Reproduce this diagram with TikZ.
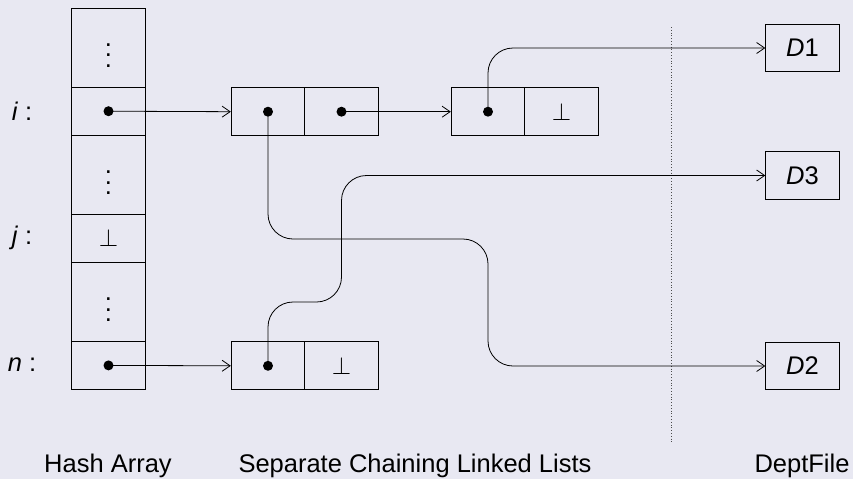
\documentclass[tikz,border=0pt]{standalone}
\usepackage{fontspec}
\setmainfont{Liberation Sans}
\usetikzlibrary{arrows.meta}
\definecolor{slidebg}{RGB}{232,232,242}
% vertical ellipsis sized for the large cells
\newcommand{\celldots}{\vbox{\baselineskip=10.5pt\lineskiplimit=0pt\hbox{.}\hbox{.}\hbox{.}}}
\begin{document}
\begin{tikzpicture}[x=1pt,y=-1pt,
  font=\fontsize{25.5}{30}\selectfont,
  cell/.style={draw, line width=0.9pt, inner sep=0pt, minimum width=73.5pt},
  bigcell/.style={cell, minimum height=79.3pt},
  smallcell/.style={cell, minimum height=47.8pt},
  listbox/.style={cell, minimum height=48pt},
  filebox/.style={cell, minimum height=47.5pt},
  ptr/.style={circle, fill=black, inner sep=0pt, minimum size=10pt},
  link/.style={line width=0.8pt, -{Straight Barb[length=8pt,width=11pt,line width=0.8pt]}},
  routed/.style={link, rounded corners=25pt}]
  % background and canvas
  \fill[slidebg] (0,0) rectangle (853,479);
  \useasboundingbox (0,0) rectangle (853,479);

  % hash array
  \node[bigcell]   (h0) at (108.5,47.6)  {};
  \node[smallcell] (hi) at (108.5,111.2) {};
  \node[bigcell]   (h1) at (108.5,174.7) {};
  \node[smallcell] (hj) at (108.5,238.3) {$\perp$};
  \node[bigcell]   (h2) at (108.5,301.8) {};
  \node[smallcell] (hn) at (108.5,365.4) {};
  \node[inner sep=0pt] (v0) at (108.5,55.6) {\celldots};
  \node[inner sep=0pt] (v1) at (108.5,182.7) {\celldots};
  \node[inner sep=0pt] (v2) at (108.5,309.8) {\celldots};

  \node (li) at (22,111) {\textit{i} :};
  \node (lj) at (22,238) {\textit{j} :};
  \node (ln) at (22,365) {\textit{n} :};

  % linked lists
  \node[listbox] (a1) at (268,111.7) {};
  \node[listbox] (a2) at (341.5,111.7) {};
  \node[listbox] (b1) at (488,111.7) {};
  \node[listbox] (b2) at (561.5,111.7) {$\perp$};
  \node[listbox] (c1) at (268,365.8) {};
  \node[listbox] (c2) at (341.5,365.8) {$\perp$};

  % department file records
  \node[filebox] (d1) at (802.5,48)    {\textit{D}1};
  \node[filebox] (d3) at (802.5,175.5) {\textit{D}3};
  \node[filebox] (d2) at (802.5,366)   {\textit{D}2};

  % separator
  \coordinate (sepTop) at (671.5,27);
  \coordinate (sepBot) at (671.5,442);
  \draw[dotted, line width=0.8pt, black!70] (sepTop) -- (sepBot);

  % pointer dots
  \node[ptr] (pi) at (hi.center) {};
  \node[ptr] (pn) at (hn.center) {};
  \node[ptr] (pa1) at (a1.center) {};
  \node[ptr] (pa2) at (a2.center) {};
  \node[ptr] (pb1) at (b1.center) {};
  \node[ptr] (pc1) at (c1.center) {};

  % straight links
  \draw[link] (pi.center) -- (a1.west);
  \draw[link] (pn.center) -- (c1.west);
  \draw[link] (pa2.center) -- (b1.west);

  % routed links to the file
  \coordinate (r1) at (268,239);
  \coordinate (r2) at (488,239);
  \draw[routed] (pa1.center) -- (r1) -- (r2) -- (r2 |- d2.west) -- (d2.west);
  \coordinate (s1) at (268,302);
  \coordinate (s2) at (341.5,302);
  \draw[routed] (pc1.center) -- (s1) -- (s2) -- (s2 |- d3.west) -- (d3.west);
  \draw[routed] (pb1.center) -- (pb1.center |- d1.west) -- (d1.west);

  % captions
  \node (cap1) at (108,466) {Hash Array};
  \node (cap2) at (415,466) {Separate Chaining Linked Lists};
  \node (cap3) at (802,466) {DeptFile};
\end{tikzpicture}
\end{document}
